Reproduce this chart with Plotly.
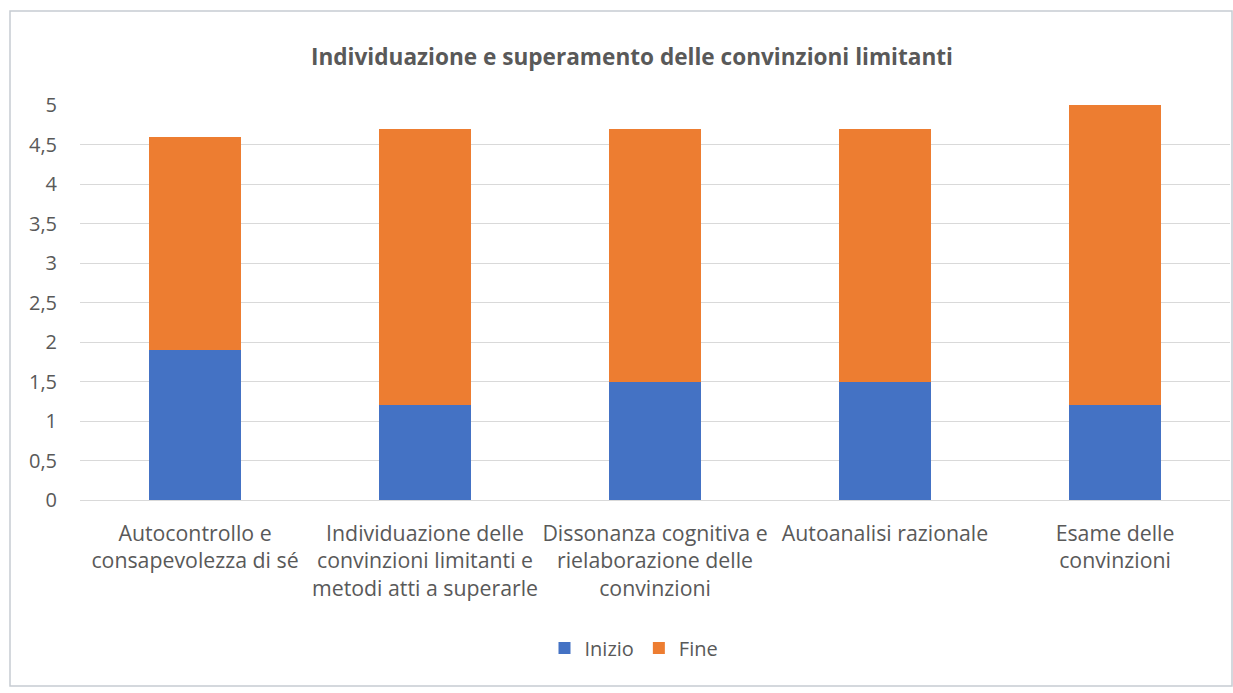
import plotly.graph_objects as go

categories = [
    "Autocontrollo e<br>consapevolezza di sé",
    "Individuazione delle<br>convinzioni limitanti e<br>metodi atti a superarle",
    "Dissonanza cognitiva e<br>rielaborazione delle<br>convinzioni",
    "Autoanalisi razionale",
    "Esame delle<br>convinzioni",
]
inizio = [1.9, 1.2, 1.5, 1.5, 1.2]
fine = [2.7, 3.5, 3.2, 3.2, 3.8]
series_names = ["Inizio", "Fine"]
colors = ["#4472C4", "#ED7D31"]
title_text = "Individuazione e superamento delle convinzioni limitanti"

FONT = "Open Sans"
GREY = "#595959"

fig = go.Figure()
for name, vals, col in zip(series_names, [inizio, fine], colors):
    fig.add_trace(go.Bar(x=categories, y=vals, name=name, marker_color=col,
                         marker_line_width=0))

L, R, T, B = 80, 3, 105, 193
W, H = 1233, 693
pw = W - L - R
ph = H - T - B

def px(x):
    return (x - L) / pw

def py(y):
    return (H - B - y) / ph

fig.update_layout(
    width=W, height=H,
    barmode="stack", bargap=0.6,
    separators=",.",
    plot_bgcolor="white", paper_bgcolor="white",
    margin=dict(l=L, r=R, t=T, b=B),
    font=dict(family=FONT, color=GREY, size=20),
    title=dict(text="<b>" + title_text + "</b>", x=px(632), xref="paper",
               xanchor="center", y=1 - 57 / H, yanchor="middle",
               font=dict(size=22.6, color=GREY, family=FONT)),
    xaxis=dict(showline=True, linecolor="#d9d9d9", linewidth=1, ticks="",
               tickfont=dict(size=21.3, color=GREY), fixedrange=True,
               ticklabelstandoff=14),
    yaxis=dict(range=[0, 5], dtick=0.5, showgrid=True, gridcolor="#d9d9d9",
               gridwidth=1, zeroline=False, ticks="", ticklen=0,
               tickfont=dict(size=20, color=GREY), ticklabelstandoff=22,
               fixedrange=True),
    legend=dict(orientation="h", x=px(634), xanchor="center", y=py(648),
                yanchor="middle", font=dict(size=20, color=GREY),
                traceorder="normal", itemwidth=30),
    showlegend=True,
)

fig.add_shape(type="rect", xref="paper", yref="paper",
              x0=px(10), x1=px(1232), y0=py(686), y1=py(11),
              line=dict(color="#c6ccd2", width=1.5), layer="below")

fig.write_html("out.html", config={"displayModeBar": False},
               post_script="document.body.style.margin='0';")
